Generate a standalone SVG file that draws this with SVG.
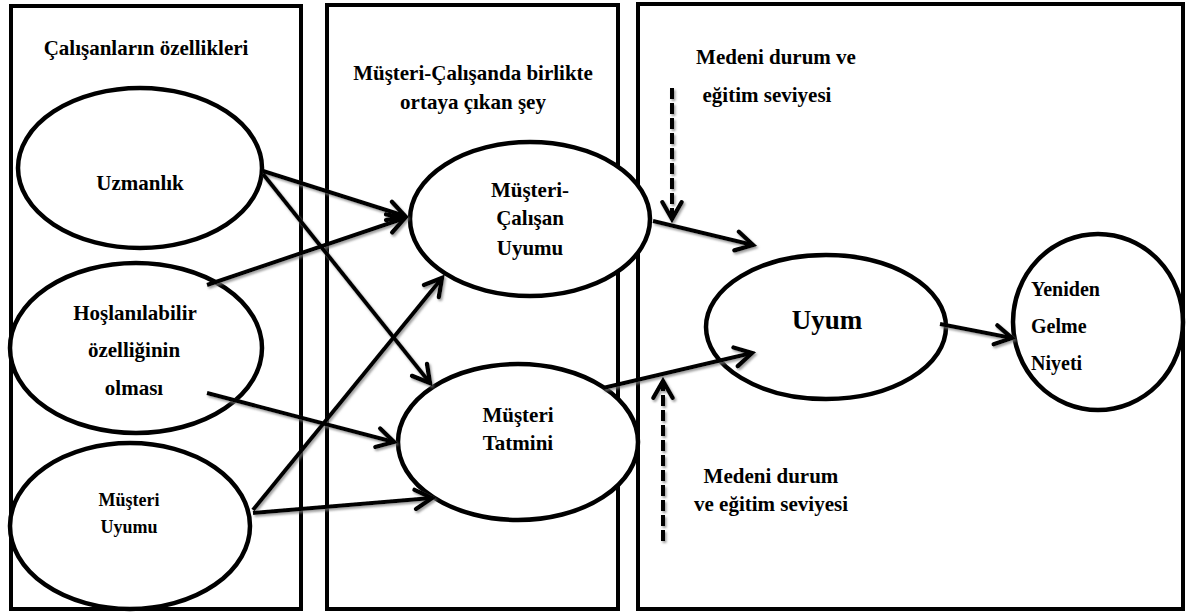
<svg xmlns="http://www.w3.org/2000/svg" width="1187" height="615" viewBox="0 0 1187 615">
  <style>
    .panel { fill: none; stroke: #000; stroke-width: 4; }
    .node { fill: #fff; stroke: #000; stroke-width: 4.5; }
    text { font-family: 'Liberation Serif', 'Times New Roman', serif; font-weight: bold; fill: #000; text-anchor: middle; }
    .h { font-size: 21px; }
    .n { font-size: 21px; }
    .y { font-size: 20px; text-anchor: start; }
    .s { font-size: 18px; }
    .big { font-size: 27px; }
    .c { fill: none; stroke: #000; stroke-width: 4; marker-end: url(#chev); }
    .d { fill: none; stroke: #000; stroke-width: 4; stroke-dasharray: 11 4; marker-end: url(#chev); }
  </style>
  <defs>
    <marker id="chev" viewBox="0 0 20 20" refX="17" refY="10" markerWidth="24" markerHeight="24" markerUnits="userSpaceOnUse" orient="auto">
      <path d="M3,2 L17,10 L3,18" fill="none" stroke="#000" stroke-width="3.6" stroke-linecap="round" stroke-linejoin="miter"/>
    </marker>
    <filter id="shade" x="-10%" y="-10%" width="120%" height="120%">
      <feDropShadow dx="1.5" dy="2" stdDeviation="1" flood-color="#777" flood-opacity="0.7"/>
    </filter>
  </defs>

  <rect width="1187" height="615" fill="#fff"/>

  <!-- three framing panels -->
  <g id="panels">
    <rect class="panel" x="11" y="6" width="290" height="603"/>
    <rect class="panel" x="327" y="5" width="291" height="604"/>
    <rect class="panel" x="638" y="4" width="545" height="605"/>
  </g>

  <!-- panel captions -->
  <g id="captions">
    <text class="h" x="146" y="55">Çalışanların özellikleri</text>
    <text class="h" x="473" y="80">Müşteri-Çalışanda birlikte</text>
    <text class="h" x="473" y="109">ortaya çıkan şey</text>
    <text class="h" x="776" y="64">Medeni durum ve</text>
    <text class="h" x="767" y="102">eğitim seviyesi</text>
    <text class="h" x="771" y="483">Medeni durum</text>
    <text class="h" x="771" y="511">ve eğitim seviyesi</text>
  </g>

  <g id="uzmanlik">
    <ellipse class="node" cx="140" cy="168" rx="122" ry="80"/>
    <text class="n" x="140" y="190">Uzmanlık</text>
  </g>

  <g id="hoslanilabilir">
    <ellipse class="node" cx="136" cy="348" rx="126" ry="85"/>
    <text class="n" x="135" y="320">Hoşlanılabilir</text>
    <text class="n" x="134" y="357">özelliğinin</text>
    <text class="n" x="134" y="395">olması</text>
  </g>

  <g id="musteri-uyumu">
    <ellipse class="node" cx="130" cy="526" rx="120" ry="83"/>
    <text class="s" x="129" y="506">Müşteri</text>
    <text class="s" x="129" y="533">Uyumu</text>
  </g>

  <g id="musteri-calisan-uyumu">
    <ellipse class="node" cx="530" cy="219" rx="120" ry="77"/>
    <text class="n" x="530" y="197">Müşteri-</text>
    <text class="n" x="530" y="225">Çalışan</text>
    <text class="n" x="530" y="255">Uyumu</text>
  </g>

  <g id="musteri-tatmini">
    <ellipse class="node" cx="518" cy="442" rx="120" ry="78"/>
    <text class="n" x="518" y="422">Müşteri</text>
    <text class="n" x="518" y="450">Tatmini</text>
  </g>

  <g id="uyum">
    <ellipse class="node" cx="826" cy="327" rx="120" ry="72"/>
    <text class="big" x="827" y="329">Uyum</text>
  </g>

  <g id="yeniden-gelme-niyeti">
    <ellipse class="node" cx="1098" cy="322" rx="85" ry="88"/>
    <text class="y" x="1031" y="296">Yeniden</text>
    <text class="y" x="1031" y="333">Gelme</text>
    <text class="y" x="1031" y="370">Niyeti</text>
  </g>

  <!-- connectors -->
  <g id="connectors" filter="url(#shade)">
    <line class="c" x1="263" y1="171" x2="405" y2="216"/>
    <line class="c" x1="263" y1="174" x2="430" y2="383"/>
    <line class="c" x1="207" y1="285" x2="405" y2="218"/>
    <line class="c" x1="207" y1="393" x2="394" y2="442"/>
    <line class="c" x1="253" y1="510" x2="442" y2="278"/>
    <line class="c" x1="253" y1="513" x2="432" y2="498"/>
    <line class="c" x1="653" y1="221" x2="753" y2="245"/>
    <line class="c" x1="603" y1="388" x2="752" y2="353"/>
    <line class="c" x1="940" y1="324" x2="1012" y2="338"/>
    <line class="d" x1="672" y1="88" x2="672" y2="219"/>
    <line class="d" x1="663" y1="541" x2="663" y2="381"/>
  </g>
</svg>
